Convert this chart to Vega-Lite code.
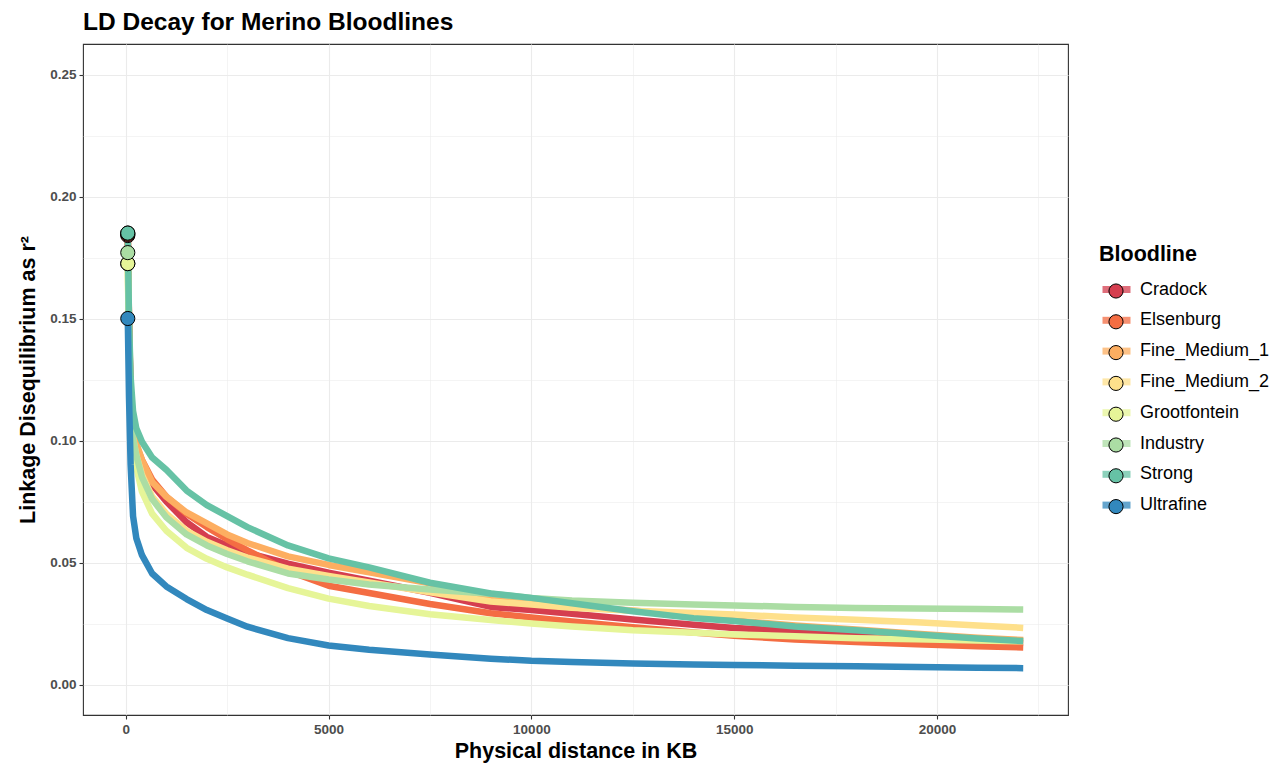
{
  "$schema": "https://vega.github.io/schema/vega-lite/v6.json",
  "width": 985,
  "height": 671,
  "autosize": {"type": "none"},
  "padding": {"left": 83, "top": 44, "right": 215, "bottom": 54},
  "background": "white",
  "title": {"text": "LD Decay for Merino Bloodlines", "anchor": "start", "frame": "group", "font": "Liberation Sans", "fontSize": 24.5, "fontWeight": "bold", "color": "#000000", "offset": 9},
  "data": {"values": [
    {"Bloodline":"Cradock","dist":50,"r2":0.184},{"Bloodline":"Cradock","dist":80,"r2":0.148},{"Bloodline":"Cradock","dist":120,"r2":0.118},{"Bloodline":"Cradock","dist":180,"r2":0.104},{"Bloodline":"Cradock","dist":260,"r2":0.097},{"Bloodline":"Cradock","dist":400,"r2":0.090},{"Bloodline":"Cradock","dist":650,"r2":0.082},{"Bloodline":"Cradock","dist":1000,"r2":0.075},{"Bloodline":"Cradock","dist":1500,"r2":0.0665},{"Bloodline":"Cradock","dist":2000,"r2":0.0605},{"Bloodline":"Cradock","dist":2500,"r2":0.057},{"Bloodline":"Cradock","dist":3000,"r2":0.054},{"Bloodline":"Cradock","dist":4000,"r2":0.0495},{"Bloodline":"Cradock","dist":5000,"r2":0.0458},{"Bloodline":"Cradock","dist":6000,"r2":0.0425},{"Bloodline":"Cradock","dist":7500,"r2":0.0376},{"Bloodline":"Cradock","dist":9000,"r2":0.0318},{"Bloodline":"Cradock","dist":10000,"r2":0.0305},{"Bloodline":"Cradock","dist":11000,"r2":0.029},{"Bloodline":"Cradock","dist":12500,"r2":0.0266},{"Bloodline":"Cradock","dist":14000,"r2":0.0245},{"Bloodline":"Cradock","dist":15000,"r2":0.0232},{"Bloodline":"Cradock","dist":16500,"r2":0.0219},{"Bloodline":"Cradock","dist":18000,"r2":0.0203},{"Bloodline":"Cradock","dist":19500,"r2":0.019},{"Bloodline":"Cradock","dist":21000,"r2":0.0178},{"Bloodline":"Cradock","dist":22126,"r2":0.017},
    {"Bloodline":"Elsenburg","dist":50,"r2":0.1845},{"Bloodline":"Elsenburg","dist":80,"r2":0.148},{"Bloodline":"Elsenburg","dist":120,"r2":0.119},{"Bloodline":"Elsenburg","dist":180,"r2":0.105},{"Bloodline":"Elsenburg","dist":260,"r2":0.098},{"Bloodline":"Elsenburg","dist":400,"r2":0.092},{"Bloodline":"Elsenburg","dist":650,"r2":0.084},{"Bloodline":"Elsenburg","dist":1000,"r2":0.077},{"Bloodline":"Elsenburg","dist":1500,"r2":0.070},{"Bloodline":"Elsenburg","dist":2000,"r2":0.0645},{"Bloodline":"Elsenburg","dist":2500,"r2":0.0595},{"Bloodline":"Elsenburg","dist":3000,"r2":0.055},{"Bloodline":"Elsenburg","dist":4000,"r2":0.0465},{"Bloodline":"Elsenburg","dist":5000,"r2":0.0405},{"Bloodline":"Elsenburg","dist":6000,"r2":0.0375},{"Bloodline":"Elsenburg","dist":7500,"r2":0.033},{"Bloodline":"Elsenburg","dist":9000,"r2":0.0292},{"Bloodline":"Elsenburg","dist":10000,"r2":0.0275},{"Bloodline":"Elsenburg","dist":11000,"r2":0.0258},{"Bloodline":"Elsenburg","dist":12500,"r2":0.0235},{"Bloodline":"Elsenburg","dist":14000,"r2":0.0213},{"Bloodline":"Elsenburg","dist":15000,"r2":0.02},{"Bloodline":"Elsenburg","dist":16500,"r2":0.0184},{"Bloodline":"Elsenburg","dist":18000,"r2":0.0174},{"Bloodline":"Elsenburg","dist":19500,"r2":0.0165},{"Bloodline":"Elsenburg","dist":21000,"r2":0.0157},{"Bloodline":"Elsenburg","dist":22126,"r2":0.0152},
    {"Bloodline":"Fine_Medium_1","dist":50,"r2":0.185},{"Bloodline":"Fine_Medium_1","dist":80,"r2":0.15},{"Bloodline":"Fine_Medium_1","dist":120,"r2":0.121},{"Bloodline":"Fine_Medium_1","dist":180,"r2":0.106},{"Bloodline":"Fine_Medium_1","dist":260,"r2":0.099},{"Bloodline":"Fine_Medium_1","dist":400,"r2":0.092},{"Bloodline":"Fine_Medium_1","dist":650,"r2":0.083},{"Bloodline":"Fine_Medium_1","dist":1000,"r2":0.077},{"Bloodline":"Fine_Medium_1","dist":1500,"r2":0.0705},{"Bloodline":"Fine_Medium_1","dist":2000,"r2":0.066},{"Bloodline":"Fine_Medium_1","dist":2500,"r2":0.0615},{"Bloodline":"Fine_Medium_1","dist":3000,"r2":0.058},{"Bloodline":"Fine_Medium_1","dist":4000,"r2":0.0525},{"Bloodline":"Fine_Medium_1","dist":5000,"r2":0.049},{"Bloodline":"Fine_Medium_1","dist":6000,"r2":0.046},{"Bloodline":"Fine_Medium_1","dist":7500,"r2":0.0415},{"Bloodline":"Fine_Medium_1","dist":9000,"r2":0.0348},{"Bloodline":"Fine_Medium_1","dist":10000,"r2":0.0335},{"Bloodline":"Fine_Medium_1","dist":11000,"r2":0.032},{"Bloodline":"Fine_Medium_1","dist":12500,"r2":0.0303},{"Bloodline":"Fine_Medium_1","dist":14000,"r2":0.028},{"Bloodline":"Fine_Medium_1","dist":15000,"r2":0.0262},{"Bloodline":"Fine_Medium_1","dist":16500,"r2":0.0242},{"Bloodline":"Fine_Medium_1","dist":18000,"r2":0.0225},{"Bloodline":"Fine_Medium_1","dist":19500,"r2":0.0208},{"Bloodline":"Fine_Medium_1","dist":21000,"r2":0.0192},{"Bloodline":"Fine_Medium_1","dist":22126,"r2":0.0182},
    {"Bloodline":"Fine_Medium_2","dist":50,"r2":0.1725},{"Bloodline":"Fine_Medium_2","dist":80,"r2":0.14},{"Bloodline":"Fine_Medium_2","dist":120,"r2":0.113},{"Bloodline":"Fine_Medium_2","dist":180,"r2":0.101},{"Bloodline":"Fine_Medium_2","dist":260,"r2":0.094},{"Bloodline":"Fine_Medium_2","dist":400,"r2":0.086},{"Bloodline":"Fine_Medium_2","dist":650,"r2":0.077},{"Bloodline":"Fine_Medium_2","dist":1000,"r2":0.070},{"Bloodline":"Fine_Medium_2","dist":1500,"r2":0.063},{"Bloodline":"Fine_Medium_2","dist":2000,"r2":0.0585},{"Bloodline":"Fine_Medium_2","dist":2500,"r2":0.055},{"Bloodline":"Fine_Medium_2","dist":3000,"r2":0.052},{"Bloodline":"Fine_Medium_2","dist":4000,"r2":0.0475},{"Bloodline":"Fine_Medium_2","dist":5000,"r2":0.0445},{"Bloodline":"Fine_Medium_2","dist":6000,"r2":0.0418},{"Bloodline":"Fine_Medium_2","dist":7500,"r2":0.0378},{"Bloodline":"Fine_Medium_2","dist":9000,"r2":0.034},{"Bloodline":"Fine_Medium_2","dist":10000,"r2":0.0328},{"Bloodline":"Fine_Medium_2","dist":11000,"r2":0.0315},{"Bloodline":"Fine_Medium_2","dist":12500,"r2":0.0302},{"Bloodline":"Fine_Medium_2","dist":14000,"r2":0.0293},{"Bloodline":"Fine_Medium_2","dist":15000,"r2":0.0287},{"Bloodline":"Fine_Medium_2","dist":16500,"r2":0.0275},{"Bloodline":"Fine_Medium_2","dist":18000,"r2":0.0265},{"Bloodline":"Fine_Medium_2","dist":19500,"r2":0.0255},{"Bloodline":"Fine_Medium_2","dist":21000,"r2":0.0242},{"Bloodline":"Fine_Medium_2","dist":22126,"r2":0.0232},
    {"Bloodline":"Grootfontein","dist":50,"r2":0.1725},{"Bloodline":"Grootfontein","dist":80,"r2":0.135},{"Bloodline":"Grootfontein","dist":120,"r2":0.108},{"Bloodline":"Grootfontein","dist":180,"r2":0.097},{"Bloodline":"Grootfontein","dist":260,"r2":0.089},{"Bloodline":"Grootfontein","dist":400,"r2":0.079},{"Bloodline":"Grootfontein","dist":650,"r2":0.070},{"Bloodline":"Grootfontein","dist":1000,"r2":0.063},{"Bloodline":"Grootfontein","dist":1500,"r2":0.056},{"Bloodline":"Grootfontein","dist":2000,"r2":0.0515},{"Bloodline":"Grootfontein","dist":2500,"r2":0.048},{"Bloodline":"Grootfontein","dist":3000,"r2":0.045},{"Bloodline":"Grootfontein","dist":4000,"r2":0.0395},{"Bloodline":"Grootfontein","dist":5000,"r2":0.0352},{"Bloodline":"Grootfontein","dist":6000,"r2":0.0322},{"Bloodline":"Grootfontein","dist":7500,"r2":0.0288},{"Bloodline":"Grootfontein","dist":9000,"r2":0.0264},{"Bloodline":"Grootfontein","dist":10000,"r2":0.025},{"Bloodline":"Grootfontein","dist":11000,"r2":0.0238},{"Bloodline":"Grootfontein","dist":12500,"r2":0.0222},{"Bloodline":"Grootfontein","dist":14000,"r2":0.0212},{"Bloodline":"Grootfontein","dist":15000,"r2":0.0205},{"Bloodline":"Grootfontein","dist":16500,"r2":0.0198},{"Bloodline":"Grootfontein","dist":18000,"r2":0.019},{"Bloodline":"Grootfontein","dist":19500,"r2":0.0185},{"Bloodline":"Grootfontein","dist":21000,"r2":0.018},{"Bloodline":"Grootfontein","dist":22126,"r2":0.0177},
    {"Bloodline":"Industry","dist":50,"r2":0.177},{"Bloodline":"Industry","dist":80,"r2":0.14},{"Bloodline":"Industry","dist":120,"r2":0.113},{"Bloodline":"Industry","dist":180,"r2":0.101},{"Bloodline":"Industry","dist":260,"r2":0.094},{"Bloodline":"Industry","dist":400,"r2":0.085},{"Bloodline":"Industry","dist":650,"r2":0.076},{"Bloodline":"Industry","dist":1000,"r2":0.0685},{"Bloodline":"Industry","dist":1500,"r2":0.0615},{"Bloodline":"Industry","dist":2000,"r2":0.057},{"Bloodline":"Industry","dist":2500,"r2":0.0535},{"Bloodline":"Industry","dist":3000,"r2":0.0505},{"Bloodline":"Industry","dist":4000,"r2":0.0455},{"Bloodline":"Industry","dist":5000,"r2":0.043},{"Bloodline":"Industry","dist":6000,"r2":0.041},{"Bloodline":"Industry","dist":7500,"r2":0.0389},{"Bloodline":"Industry","dist":9000,"r2":0.0372},{"Bloodline":"Industry","dist":10000,"r2":0.0355},{"Bloodline":"Industry","dist":11000,"r2":0.0344},{"Bloodline":"Industry","dist":12500,"r2":0.0335},{"Bloodline":"Industry","dist":14000,"r2":0.0328},{"Bloodline":"Industry","dist":15000,"r2":0.0324},{"Bloodline":"Industry","dist":16500,"r2":0.0318},{"Bloodline":"Industry","dist":18000,"r2":0.0314},{"Bloodline":"Industry","dist":19500,"r2":0.0311},{"Bloodline":"Industry","dist":21000,"r2":0.0309},{"Bloodline":"Industry","dist":22126,"r2":0.0307},
    {"Bloodline":"Strong","dist":50,"r2":0.185},{"Bloodline":"Strong","dist":80,"r2":0.15},{"Bloodline":"Strong","dist":120,"r2":0.126},{"Bloodline":"Strong","dist":180,"r2":0.112},{"Bloodline":"Strong","dist":260,"r2":0.105},{"Bloodline":"Strong","dist":400,"r2":0.0995},{"Bloodline":"Strong","dist":650,"r2":0.093},{"Bloodline":"Strong","dist":1000,"r2":0.088},{"Bloodline":"Strong","dist":1500,"r2":0.0795},{"Bloodline":"Strong","dist":2000,"r2":0.0735},{"Bloodline":"Strong","dist":2500,"r2":0.069},{"Bloodline":"Strong","dist":3000,"r2":0.0645},{"Bloodline":"Strong","dist":4000,"r2":0.057},{"Bloodline":"Strong","dist":5000,"r2":0.0517},{"Bloodline":"Strong","dist":6000,"r2":0.048},{"Bloodline":"Strong","dist":7500,"r2":0.0417},{"Bloodline":"Strong","dist":9000,"r2":0.0373},{"Bloodline":"Strong","dist":10000,"r2":0.0355},{"Bloodline":"Strong","dist":11000,"r2":0.0333},{"Bloodline":"Strong","dist":12500,"r2":0.03},{"Bloodline":"Strong","dist":14000,"r2":0.0272},{"Bloodline":"Strong","dist":15000,"r2":0.026},{"Bloodline":"Strong","dist":16500,"r2":0.0238},{"Bloodline":"Strong","dist":18000,"r2":0.0222},{"Bloodline":"Strong","dist":19500,"r2":0.0205},{"Bloodline":"Strong","dist":21000,"r2":0.0189},{"Bloodline":"Strong","dist":22126,"r2":0.0178},
    {"Bloodline":"Ultrafine","dist":50,"r2":0.15},{"Bloodline":"Ultrafine","dist":80,"r2":0.118},{"Bloodline":"Ultrafine","dist":120,"r2":0.09},{"Bloodline":"Ultrafine","dist":180,"r2":0.069},{"Bloodline":"Ultrafine","dist":260,"r2":0.06},{"Bloodline":"Ultrafine","dist":400,"r2":0.053},{"Bloodline":"Ultrafine","dist":650,"r2":0.0455},{"Bloodline":"Ultrafine","dist":1000,"r2":0.0402},{"Bloodline":"Ultrafine","dist":1500,"r2":0.035},{"Bloodline":"Ultrafine","dist":2000,"r2":0.0305},{"Bloodline":"Ultrafine","dist":2500,"r2":0.027},{"Bloodline":"Ultrafine","dist":3000,"r2":0.0237},{"Bloodline":"Ultrafine","dist":4000,"r2":0.019},{"Bloodline":"Ultrafine","dist":5000,"r2":0.016},{"Bloodline":"Ultrafine","dist":6000,"r2":0.0142},{"Bloodline":"Ultrafine","dist":7500,"r2":0.0123},{"Bloodline":"Ultrafine","dist":9000,"r2":0.0106},{"Bloodline":"Ultrafine","dist":10000,"r2":0.0097},{"Bloodline":"Ultrafine","dist":11000,"r2":0.0092},{"Bloodline":"Ultrafine","dist":12500,"r2":0.0086},{"Bloodline":"Ultrafine","dist":14000,"r2":0.0082},{"Bloodline":"Ultrafine","dist":15000,"r2":0.008},{"Bloodline":"Ultrafine","dist":16500,"r2":0.0077},{"Bloodline":"Ultrafine","dist":18000,"r2":0.0075},{"Bloodline":"Ultrafine","dist":19500,"r2":0.0072},{"Bloodline":"Ultrafine","dist":21000,"r2":0.0069},{"Bloodline":"Ultrafine","dist":22126,"r2":0.0067}
  ]},
  "encoding": {
    "x": {"field": "dist", "type": "quantitative", "title": "Physical distance in KB",
      "scale": {"domain": [-1054, 23230], "nice": false, "zero": false},
      "axis": {"values": [0, 2500, 5000, 7500, 10000, 12500, 15000, 17500, 20000, 22500], "format": "d",
        "labelExpr": "datum.value % 5000 === 0 ? datum.label : ''",
        "tickOpacity": {"condition": {"test": "datum.value % 5000 === 0", "value": 1}, "value": 0},
        "gridWidth": {"condition": {"test": "datum.value % 5000 === 0", "value": 1.1}, "value": 0.55},
        "labelPadding": 3, "titlePadding": 5}},
    "y": {"field": "r2", "type": "quantitative", "title": "Linkage Disequilibrium as r²",
      "scale": {"domain": [-0.0125, 0.2625], "nice": false, "zero": false},
      "axis": {"values": [0, 0.025, 0.05, 0.075, 0.1, 0.125, 0.15, 0.175, 0.2, 0.225, 0.25], "format": ".2f",
        "labelExpr": "round(datum.value * 40) % 2 === 0 ? datum.label : ''",
        "tickOpacity": {"condition": {"test": "round(datum.value * 40) % 2 === 0", "value": 1}, "value": 0},
        "gridWidth": {"condition": {"test": "round(datum.value * 40) % 2 === 0", "value": 1.1}, "value": 0.55},
        "labelPadding": 3, "titlePadding": 10}}
  },
  "layer": [
    {
      "mark": {"type": "line", "strokeWidth": 6.5, "strokeJoin": "round", "strokeCap": "butt", "clip": true},
      "encoding": {
        "stroke": {"field": "Bloodline", "type": "nominal",
          "scale": {"domain": ["Cradock", "Elsenburg", "Fine_Medium_1", "Fine_Medium_2", "Grootfontein", "Industry", "Strong", "Ultrafine"],
            "range": ["#D53E4F", "#F46D43", "#FDAE61", "#FEE08B", "#E6F598", "#ABDDA4", "#66C2A5", "#3288BD"]},
          "legend": {"orient": "none", "legendX": 1016, "legendY": 200, "title": "Bloodline", "titlePadding": 13, "symbolType": "stroke", "symbolSize": 784, "symbolStrokeWidth": 7, "symbolOpacity": 0.75, "clipHeight": 22, "rowPadding": 8.8, "labelOffset": 6, "labelFontSize": 18, "zindex": 0}}
      }
    },
    {
      "transform": [{"filter": "datum.dist === 50"}],
      "mark": {"type": "point", "shape": "circle", "filled": true, "size": 200, "stroke": "#000000", "strokeWidth": 1, "opacity": 1},
      "encoding": {
        "fill": {"field": "Bloodline", "type": "nominal",
          "scale": {"range": ["#D53E4F", "#F46D43", "#FDAE61", "#FEE08B", "#E6F598", "#ABDDA4", "#66C2A5", "#3288BD"]},
          "legend": {"orient": "none", "legendX": 1016, "legendY": 236, "title": null, "symbolType": "circle", "symbolSize": 200, "symbolStrokeColor": "#000000", "symbolStrokeWidth": 1, "symbolOpacity": 1, "symbolOffset": 9, "clipHeight": 22, "rowPadding": 8.8, "labelExpr": "''", "labelFontSize": 1, "labelOffset": 0, "zindex": 1}}
      }
    }
  ],
  "config": {
    "font": "Liberation Sans",
    "view": {"stroke": "#333333", "strokeWidth": 1.1},
    "axis": {"labelFont": "Liberation Sans", "labelFontWeight": "bold", "labelColor": "#4D4D4D", "labelFontSize": 13.5,
      "titleFont": "Liberation Sans", "titleFontSize": 21.5, "titleFontWeight": "bold", "titleColor": "#000000",
      "tickColor": "#333333", "tickSize": 4, "tickWidth": 1.1, "domain": false, "gridColor": "#EBEBEB"},
    "legend": {"labelFont": "Liberation Sans", "labelFontSize": 17.5, "labelColor": "#000000", "titleFont": "Liberation Sans", "titleFontSize": 21.5, "titleFontWeight": "bold", "titleColor": "#000000", "titlePadding": 10}
  }
}
